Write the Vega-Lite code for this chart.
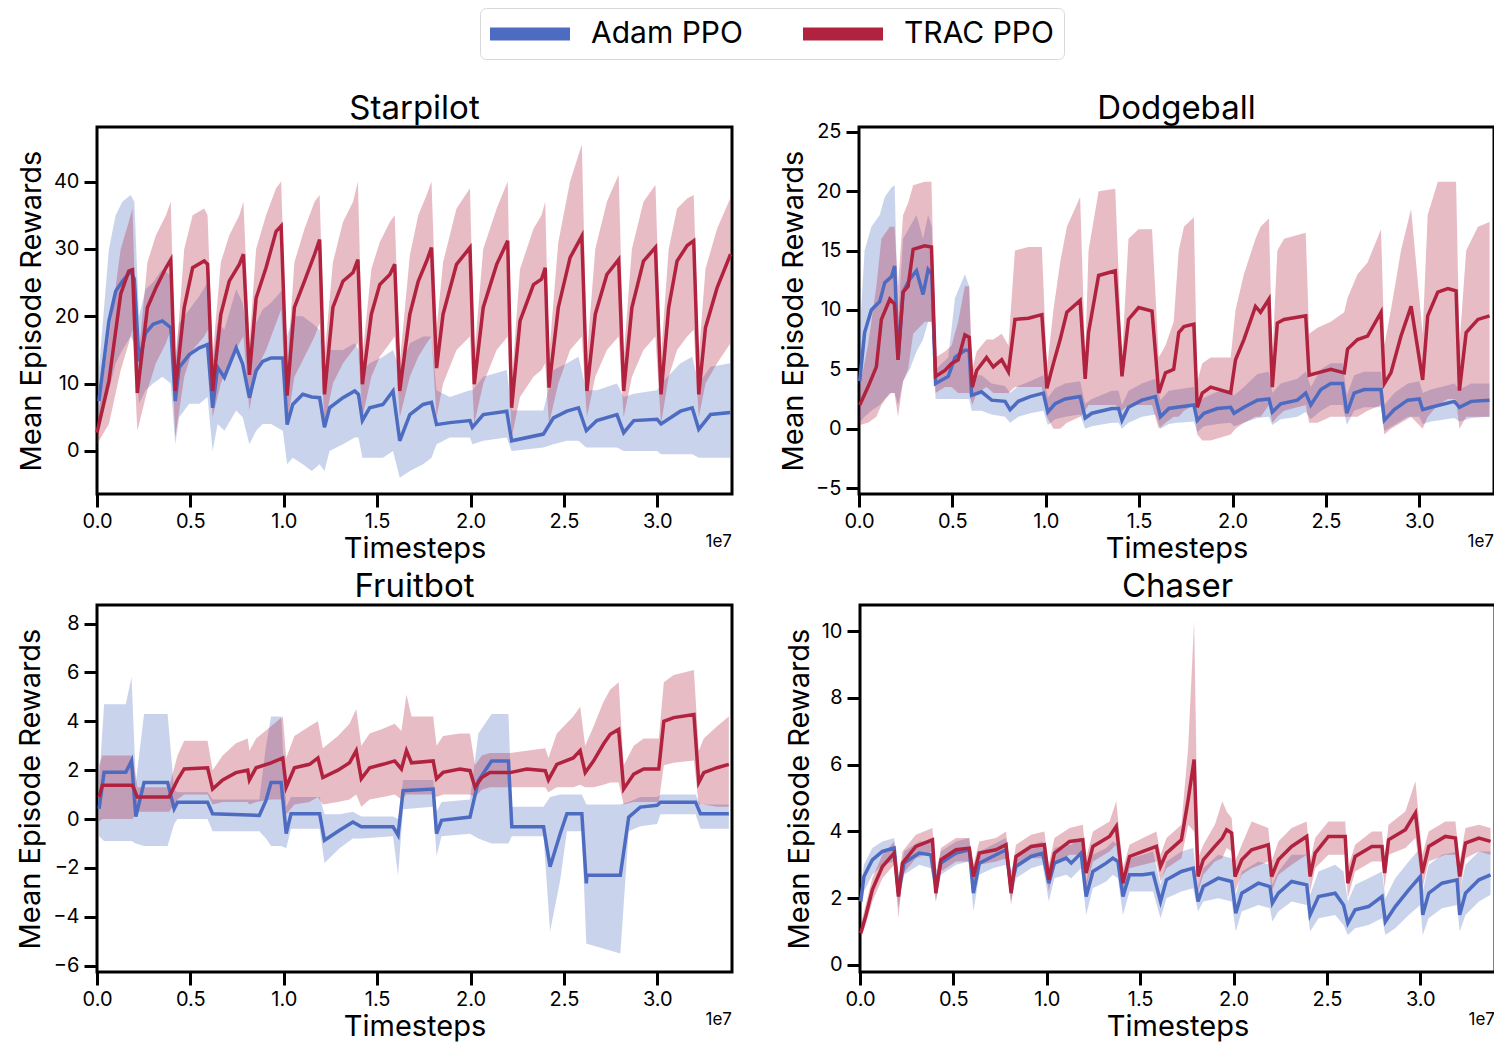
{
"$schema": "https://vega.github.io/schema/vega-lite/v6.json",
"padding": {"left": 15, "top": 7, "right": 0, "bottom": 0},
"config": {
 "font": "Inter",
 "view": {"stroke": "black", "strokeWidth": 3},
 "axis": {"grid": false, "domain": false, "tickColor": "black", "tickWidth": 3, "tickSize": 13, "labelFontSize": 20, "labelColor": "black", "titleFontSize": 29, "titleFontWeight": "normal", "titleColor": "black"},
 "axisX": {"titlePadding": 3, "labelPadding": 4},
 "axisY": {"titlePadding": 7, "labelPadding": 5},
 "title": {"fontSize": 33, "fontWeight": "normal", "color": "black", "offset": 1, "baseline": "alphabetic", "frame": "group"}
},
"datasets": {
"sp": [
{"s":"A","x":0.01,"y":7.4,"lo":3,"hi":12},{"s":"A","x":0.064,"y":19.3,"lo":9,"hi":30},{"s":"A","x":0.1,"y":23.7,"lo":13,"hi":35},{"s":"A","x":0.136,"y":25.2,"lo":15,"hi":37},{"s":"A","x":0.18,"y":26.7,"lo":17,"hi":38},{"s":"A","x":0.2,"y":25.5,"lo":16,"hi":37},{"s":"A","x":0.225,"y":13.3,"lo":7,"hi":20},{"s":"A","x":0.26,"y":17.5,"lo":9,"hi":24},{"s":"A","x":0.3,"y":18.8,"lo":10,"hi":25},{"s":"A","x":0.35,"y":19.3,"lo":11,"hi":27},{"s":"A","x":0.395,"y":18.3,"lo":10,"hi":26},{"s":"A","x":0.419,"y":7.4,"lo":1,"hi":14},{"s":"A","x":0.44,"y":12.4,"lo":5,"hi":19},{"s":"A","x":0.494,"y":14.3,"lo":7,"hi":21},{"s":"A","x":0.548,"y":15.3,"lo":7,"hi":23},{"s":"A","x":0.592,"y":15.8,"lo":8,"hi":25},{"s":"A","x":0.619,"y":6.4,"lo":0,"hi":13},{"s":"A","x":0.646,"y":12.4,"lo":4,"hi":19},{"s":"A","x":0.682,"y":10.9,"lo":3,"hi":18},{"s":"A","x":0.745,"y":15.3,"lo":6,"hi":24},{"s":"A","x":0.78,"y":12.9,"lo":5,"hi":22},{"s":"A","x":0.816,"y":7.9,"lo":1,"hi":15},{"s":"A","x":0.852,"y":11.9,"lo":3,"hi":19},{"s":"A","x":0.887,"y":13.3,"lo":4,"hi":21},{"s":"A","x":0.932,"y":13.8,"lo":4,"hi":22},{"s":"A","x":0.995,"y":13.8,"lo":3,"hi":24},{"s":"A","x":1.018,"y":3.9,"lo":-2,"hi":17},{"s":"A","x":1.048,"y":6.9,"lo":-1,"hi":20},{"s":"A","x":1.102,"y":8.4,"lo":-2,"hi":20},{"s":"A","x":1.15,"y":8.0,"lo":-3,"hi":19},{"s":"A","x":1.192,"y":7.9,"lo":-2,"hi":18},{"s":"A","x":1.218,"y":3.5,"lo":-3,"hi":12},{"s":"A","x":1.245,"y":6.4,"lo":0,"hi":15},{"s":"A","x":1.317,"y":7.9,"lo":1,"hi":15},{"s":"A","x":1.38,"y":8.9,"lo":2,"hi":16},{"s":"A","x":1.4,"y":8.4,"lo":2,"hi":15},{"s":"A","x":1.421,"y":4.5,"lo":-1,"hi":12},{"s":"A","x":1.46,"y":6.4,"lo":-1,"hi":13},{"s":"A","x":1.531,"y":6.9,"lo":-1,"hi":14},{"s":"A","x":1.585,"y":8.9,"lo":0,"hi":15},{"s":"A","x":1.621,"y":1.5,"lo":-4,"hi":12},{"s":"A","x":1.675,"y":5.4,"lo":-3,"hi":16},{"s":"A","x":1.746,"y":6.9,"lo":-2,"hi":17},{"s":"A","x":1.791,"y":7.2,"lo":-1,"hi":17},{"s":"A","x":1.818,"y":3.9,"lo":1,"hi":9},{"s":"A","x":1.889,"y":4.2,"lo":2,"hi":8},{"s":"A","x":1.997,"y":4.5,"lo":2,"hi":9},{"s":"A","x":2.01,"y":3.5,"lo":1,"hi":9},{"s":"A","x":2.068,"y":5.4,"lo":1.5,"hi":11},{"s":"A","x":2.194,"y":5.9,"lo":2,"hi":12},{"s":"A","x":2.22,"y":1.5,"lo":0,"hi":6},{"s":"A","x":2.39,"y":2.5,"lo":0.5,"hi":6},{"s":"A","x":2.444,"y":4.9,"lo":1,"hi":12},{"s":"A","x":2.516,"y":5.9,"lo":1.5,"hi":13},{"s":"A","x":2.578,"y":6.4,"lo":1.5,"hi":14},{"s":"A","x":2.62,"y":3.0,"lo":0.5,"hi":9},{"s":"A","x":2.676,"y":4.5,"lo":0.5,"hi":9},{"s":"A","x":2.784,"y":5.4,"lo":0.5,"hi":10},{"s":"A","x":2.82,"y":2.7,"lo":0,"hi":8},{"s":"A","x":2.874,"y":4.5,"lo":0,"hi":8.5},{"s":"A","x":2.999,"y":4.7,"lo":0,"hi":9},{"s":"A","x":3.02,"y":4.0,"lo":-0.5,"hi":10},{"s":"A","x":3.124,"y":5.9,"lo":-0.5,"hi":13},{"s":"A","x":3.187,"y":6.4,"lo":-0.5,"hi":14},{"s":"A","x":3.222,"y":3.2,"lo":-1,"hi":10},{"s":"A","x":3.285,"y":5.4,"lo":-1,"hi":12.5},{"s":"A","x":3.392,"y":5.7,"lo":-1,"hi":13},
{"s":"T","x":0.0,"y":2.7,"lo":1,"hi":4},{"s":"T","x":0.064,"y":10.4,"lo":4,"hi":17},{"s":"T","x":0.127,"y":23.3,"lo":12,"hi":30},{"s":"T","x":0.17,"y":26.7,"lo":16,"hi":34},{"s":"T","x":0.19,"y":26.9,"lo":18,"hi":36},{"s":"T","x":0.216,"y":8.6,"lo":3,"hi":12},{"s":"T","x":0.27,"y":21.3,"lo":9,"hi":28},{"s":"T","x":0.315,"y":24.2,"lo":13,"hi":32},{"s":"T","x":0.369,"y":27.2,"lo":16,"hi":35},{"s":"T","x":0.395,"y":28.4,"lo":18,"hi":37},{"s":"T","x":0.419,"y":8.9,"lo":2,"hi":12},{"s":"T","x":0.467,"y":21.3,"lo":11,"hi":30},{"s":"T","x":0.512,"y":27.2,"lo":15,"hi":35},{"s":"T","x":0.574,"y":28.2,"lo":17,"hi":36},{"s":"T","x":0.592,"y":27.7,"lo":18,"hi":35},{"s":"T","x":0.619,"y":8.9,"lo":5,"hi":14},{"s":"T","x":0.663,"y":20.3,"lo":10,"hi":28},{"s":"T","x":0.708,"y":25.2,"lo":13,"hi":32},{"s":"T","x":0.762,"y":27.7,"lo":16,"hi":35},{"s":"T","x":0.784,"y":29.2,"lo":17,"hi":37},{"s":"T","x":0.816,"y":11.3,"lo":6,"hi":16},{"s":"T","x":0.852,"y":22.7,"lo":12,"hi":30},{"s":"T","x":0.905,"y":27.2,"lo":15,"hi":35},{"s":"T","x":0.959,"y":32.6,"lo":19,"hi":39},{"s":"T","x":0.986,"y":33.4,"lo":21,"hi":40},{"s":"T","x":1.018,"y":8.2,"lo":4,"hi":12},{"s":"T","x":1.057,"y":21.3,"lo":11,"hi":28},{"s":"T","x":1.111,"y":25.2,"lo":14,"hi":33},{"s":"T","x":1.165,"y":29.2,"lo":17,"hi":37},{"s":"T","x":1.192,"y":31.4,"lo":19,"hi":38},{"s":"T","x":1.218,"y":8.4,"lo":4,"hi":14},{"s":"T","x":1.263,"y":21.3,"lo":10,"hi":28},{"s":"T","x":1.317,"y":25.2,"lo":13,"hi":34},{"s":"T","x":1.371,"y":26.5,"lo":15,"hi":37},{"s":"T","x":1.397,"y":28.4,"lo":16,"hi":40},{"s":"T","x":1.421,"y":9.9,"lo":5,"hi":14},{"s":"T","x":1.469,"y":20.3,"lo":11,"hi":27},{"s":"T","x":1.514,"y":24.7,"lo":14,"hi":31},{"s":"T","x":1.568,"y":26.2,"lo":16,"hi":34},{"s":"T","x":1.594,"y":27.7,"lo":17,"hi":35},{"s":"T","x":1.621,"y":8.9,"lo":5,"hi":13},{"s":"T","x":1.675,"y":20.3,"lo":11,"hi":29},{"s":"T","x":1.72,"y":25.2,"lo":14,"hi":35},{"s":"T","x":1.765,"y":28.2,"lo":16,"hi":38},{"s":"T","x":1.791,"y":30.2,"lo":17,"hi":40},{"s":"T","x":1.818,"y":12.3,"lo":5,"hi":18},{"s":"T","x":1.853,"y":20.3,"lo":10,"hi":28},{"s":"T","x":1.925,"y":27.7,"lo":15,"hi":36},{"s":"T","x":1.997,"y":30.2,"lo":17,"hi":39},{"s":"T","x":2.02,"y":9.9,"lo":4,"hi":14},{"s":"T","x":2.068,"y":21.3,"lo":10,"hi":30},{"s":"T","x":2.14,"y":27.7,"lo":15,"hi":36},{"s":"T","x":2.199,"y":31.2,"lo":17,"hi":40},{"s":"T","x":2.22,"y":6.4,"lo":2,"hi":10},{"s":"T","x":2.265,"y":19.3,"lo":8,"hi":27},{"s":"T","x":2.337,"y":24.7,"lo":11,"hi":33},{"s":"T","x":2.38,"y":25.5,"lo":12,"hi":35},{"s":"T","x":2.4,"y":27.2,"lo":13,"hi":37},{"s":"T","x":2.42,"y":9.4,"lo":4,"hi":14},{"s":"T","x":2.47,"y":21.3,"lo":10,"hi":31},{"s":"T","x":2.533,"y":28.7,"lo":15,"hi":40},{"s":"T","x":2.596,"y":31.9,"lo":17,"hi":45.5},{"s":"T","x":2.623,"y":8.9,"lo":5,"hi":14},{"s":"T","x":2.668,"y":20.3,"lo":11,"hi":30},{"s":"T","x":2.73,"y":26.2,"lo":15,"hi":37},{"s":"T","x":2.793,"y":28.4,"lo":17,"hi":41},{"s":"T","x":2.82,"y":8.9,"lo":5,"hi":14},{"s":"T","x":2.864,"y":21.3,"lo":11,"hi":30},{"s":"T","x":2.926,"y":28.2,"lo":15,"hi":37},{"s":"T","x":2.99,"y":30.2,"lo":17,"hi":39.5},{"s":"T","x":3.02,"y":8.4,"lo":4,"hi":14},{"s":"T","x":3.061,"y":21.3,"lo":11,"hi":30},{"s":"T","x":3.106,"y":28.2,"lo":15,"hi":36},{"s":"T","x":3.16,"y":30.5,"lo":17,"hi":37.5},{"s":"T","x":3.195,"y":31.2,"lo":18,"hi":38},{"s":"T","x":3.222,"y":8.4,"lo":5,"hi":14},{"s":"T","x":3.258,"y":18.3,"lo":10,"hi":27},{"s":"T","x":3.32,"y":24.2,"lo":13,"hi":33},{"s":"T","x":3.392,"y":29.2,"lo":16,"hi":37.6}
],
"db": [
{"s":"A","x":0.004,"y":4.0,"lo":0.5,"hi":8},{"s":"A","x":0.03,"y":8.1,"lo":1,"hi":15},{"s":"A","x":0.066,"y":10.0,"lo":1.5,"hi":17},{"s":"A","x":0.111,"y":10.7,"lo":2,"hi":18},{"s":"A","x":0.138,"y":12.3,"lo":2.5,"hi":19.5},{"s":"A","x":0.174,"y":12.8,"lo":3,"hi":20.3},{"s":"A","x":0.191,"y":13.7,"lo":3,"hi":20.5},{"s":"A","x":0.209,"y":5.8,"lo":2,"hi":9},{"s":"A","x":0.236,"y":11.5,"lo":4,"hi":16},{"s":"A","x":0.272,"y":12.6,"lo":5,"hi":17},{"s":"A","x":0.308,"y":13.3,"lo":6.5,"hi":18},{"s":"A","x":0.343,"y":11.3,"lo":7.5,"hi":16},{"s":"A","x":0.37,"y":13.4,"lo":9,"hi":18},{"s":"A","x":0.39,"y":13.0,"lo":9,"hi":17},{"s":"A","x":0.41,"y":3.8,"lo":2.5,"hi":5},{"s":"A","x":0.478,"y":4.4,"lo":2.5,"hi":6},{"s":"A","x":0.514,"y":6.0,"lo":2.5,"hi":11},{"s":"A","x":0.567,"y":6.6,"lo":2.5,"hi":13},{"s":"A","x":0.59,"y":6.6,"lo":2.5,"hi":12},{"s":"A","x":0.603,"y":2.8,"lo":1.5,"hi":4.5},{"s":"A","x":0.656,"y":3.1,"lo":1.5,"hi":4.5},{"s":"A","x":0.71,"y":2.4,"lo":1.2,"hi":3.8},{"s":"A","x":0.782,"y":2.3,"lo":1.0,"hi":3.6},{"s":"A","x":0.809,"y":1.6,"lo":0.5,"hi":3},{"s":"A","x":0.853,"y":2.3,"lo":1,"hi":3.6},{"s":"A","x":0.916,"y":2.7,"lo":1.3,"hi":4},{"s":"A","x":0.987,"y":3.0,"lo":1.5,"hi":4.5},{"s":"A","x":1.011,"y":1.4,"lo":0.3,"hi":2.6},{"s":"A","x":1.05,"y":2.1,"lo":0.8,"hi":3.4},{"s":"A","x":1.104,"y":2.5,"lo":1,"hi":3.8},{"s":"A","x":1.184,"y":2.7,"lo":1.2,"hi":4},{"s":"A","x":1.211,"y":0.9,"lo":0,"hi":2.1},{"s":"A","x":1.247,"y":1.3,"lo":0.2,"hi":2.5},{"s":"A","x":1.354,"y":1.7,"lo":0.5,"hi":3.2},{"s":"A","x":1.39,"y":1.7,"lo":0.5,"hi":3.2},{"s":"A","x":1.408,"y":0.7,"lo":0,"hi":2},{"s":"A","x":1.443,"y":1.8,"lo":0.5,"hi":3.2},{"s":"A","x":1.515,"y":2.4,"lo":1,"hi":3.8},{"s":"A","x":1.587,"y":2.7,"lo":1.2,"hi":4.2},{"s":"A","x":1.614,"y":1.0,"lo":0,"hi":2.4},{"s":"A","x":1.659,"y":1.7,"lo":0.4,"hi":3.2},{"s":"A","x":1.703,"y":1.8,"lo":0.5,"hi":3.3},{"s":"A","x":1.793,"y":2.0,"lo":0.6,"hi":3.5},{"s":"A","x":1.811,"y":0.7,"lo":-0.3,"hi":2},{"s":"A","x":1.847,"y":1.3,"lo":0.2,"hi":2.6},{"s":"A","x":1.918,"y":1.7,"lo":0.4,"hi":3.1},{"s":"A","x":1.99,"y":1.8,"lo":0.5,"hi":3.2},{"s":"A","x":2.008,"y":1.3,"lo":0.2,"hi":2.8},{"s":"A","x":2.061,"y":1.8,"lo":0.5,"hi":3.5},{"s":"A","x":2.133,"y":2.4,"lo":0.9,"hi":4.6},{"s":"A","x":2.195,"y":2.5,"lo":1,"hi":4.8},{"s":"A","x":2.213,"y":1.4,"lo":0.3,"hi":3},{"s":"A","x":2.258,"y":2.1,"lo":0.8,"hi":3.8},{"s":"A","x":2.347,"y":2.4,"lo":1,"hi":4.2},{"s":"A","x":2.392,"y":3.0,"lo":1.4,"hi":4.8},{"s":"A","x":2.419,"y":2.0,"lo":0.8,"hi":3.5},{"s":"A","x":2.473,"y":3.3,"lo":1.5,"hi":5},{"s":"A","x":2.526,"y":3.8,"lo":2,"hi":5.5},{"s":"A","x":2.589,"y":3.8,"lo":2,"hi":5.5},{"s":"A","x":2.612,"y":1.3,"lo":0.3,"hi":2.8},{"s":"A","x":2.651,"y":3.0,"lo":1.5,"hi":4.5},{"s":"A","x":2.705,"y":3.3,"lo":1.8,"hi":4.8},{"s":"A","x":2.795,"y":3.3,"lo":1.8,"hi":4.8},{"s":"A","x":2.813,"y":0.7,"lo":-0.2,"hi":2},{"s":"A","x":2.866,"y":1.6,"lo":0.3,"hi":3},{"s":"A","x":2.938,"y":2.4,"lo":1,"hi":3.8},{"s":"A","x":3.0,"y":2.5,"lo":1,"hi":4},{"s":"A","x":3.018,"y":1.6,"lo":0.4,"hi":3},{"s":"A","x":3.063,"y":1.8,"lo":0.6,"hi":3.3},{"s":"A","x":3.188,"y":2.3,"lo":0.9,"hi":3.8},{"s":"A","x":3.215,"y":1.8,"lo":0.6,"hi":3.3},{"s":"A","x":3.278,"y":2.3,"lo":0.9,"hi":3.8},{"s":"A","x":3.376,"y":2.4,"lo":1,"hi":3.8},
{"s":"T","x":0.004,"y":2.0,"lo":0.3,"hi":3.5},{"s":"T","x":0.048,"y":3.5,"lo":0.5,"hi":7},{"s":"T","x":0.093,"y":5.2,"lo":1,"hi":12},{"s":"T","x":0.12,"y":9.2,"lo":2,"hi":16},{"s":"T","x":0.165,"y":10.9,"lo":3,"hi":17},{"s":"T","x":0.19,"y":10.5,"lo":3,"hi":17},{"s":"T","x":0.209,"y":5.8,"lo":1,"hi":12},{"s":"T","x":0.236,"y":11.5,"lo":4,"hi":18},{"s":"T","x":0.263,"y":12.0,"lo":5,"hi":19},{"s":"T","x":0.29,"y":15.1,"lo":8,"hi":20.5},{"s":"T","x":0.352,"y":15.4,"lo":9,"hi":20.8},{"s":"T","x":0.388,"y":15.3,"lo":9,"hi":20.8},{"s":"T","x":0.41,"y":4.4,"lo":3,"hi":6},{"s":"T","x":0.46,"y":4.9,"lo":3.5,"hi":6.5},{"s":"T","x":0.496,"y":5.5,"lo":3.5,"hi":7},{"s":"T","x":0.531,"y":5.8,"lo":3,"hi":9},{"s":"T","x":0.567,"y":7.9,"lo":3,"hi":12},{"s":"T","x":0.59,"y":7.7,"lo":3,"hi":12},{"s":"T","x":0.607,"y":3.5,"lo":2,"hi":5},{"s":"T","x":0.63,"y":4.9,"lo":3,"hi":6.5},{"s":"T","x":0.683,"y":6.0,"lo":3.5,"hi":7.5},{"s":"T","x":0.719,"y":5.2,"lo":3,"hi":7.5},{"s":"T","x":0.764,"y":5.8,"lo":3,"hi":8},{"s":"T","x":0.8,"y":4.8,"lo":3,"hi":7},{"s":"T","x":0.835,"y":9.2,"lo":3.5,"hi":15},{"s":"T","x":0.907,"y":9.3,"lo":3.5,"hi":15.3},{"s":"T","x":0.979,"y":9.6,"lo":3.5,"hi":15.3},{"s":"T","x":1.006,"y":3.4,"lo":1,"hi":5},{"s":"T","x":1.041,"y":5.5,"lo":0,"hi":10},{"s":"T","x":1.077,"y":7.5,"lo":0,"hi":14},{"s":"T","x":1.113,"y":9.8,"lo":0.5,"hi":17},{"s":"T","x":1.184,"y":10.8,"lo":1,"hi":19.5},{"s":"T","x":1.211,"y":4.2,"lo":1.5,"hi":6},{"s":"T","x":1.229,"y":8.1,"lo":2,"hi":15},{"s":"T","x":1.283,"y":12.9,"lo":2,"hi":20},{"s":"T","x":1.372,"y":13.3,"lo":2,"hi":20.2},{"s":"T","x":1.408,"y":4.4,"lo":1.5,"hi":6},{"s":"T","x":1.443,"y":9.2,"lo":2,"hi":16},{"s":"T","x":1.497,"y":10.2,"lo":2,"hi":16.8},{"s":"T","x":1.569,"y":9.9,"lo":2,"hi":16.8},{"s":"T","x":1.605,"y":3.0,"lo":0,"hi":6},{"s":"T","x":1.641,"y":4.7,"lo":0.5,"hi":7},{"s":"T","x":1.685,"y":5.0,"lo":1,"hi":9},{"s":"T","x":1.712,"y":8.1,"lo":1,"hi":15},{"s":"T","x":1.74,"y":8.6,"lo":1.5,"hi":17},{"s":"T","x":1.793,"y":8.8,"lo":2,"hi":17.8},{"s":"T","x":1.811,"y":1.8,"lo":-0.5,"hi":4},{"s":"T","x":1.838,"y":3.0,"lo":-1,"hi":5.5},{"s":"T","x":1.883,"y":3.5,"lo":-1,"hi":6},{"s":"T","x":1.99,"y":3.0,"lo":-0.5,"hi":6},{"s":"T","x":2.016,"y":5.8,"lo":0,"hi":10},{"s":"T","x":2.061,"y":7.5,"lo":0.5,"hi":13},{"s":"T","x":2.123,"y":10.3,"lo":1,"hi":16},{"s":"T","x":2.15,"y":9.8,"lo":1,"hi":17},{"s":"T","x":2.195,"y":10.9,"lo":2,"hi":17.7},{"s":"T","x":2.213,"y":3.5,"lo":0.5,"hi":6},{"s":"T","x":2.24,"y":8.9,"lo":1,"hi":15},{"s":"T","x":2.276,"y":9.2,"lo":1.5,"hi":16},{"s":"T","x":2.392,"y":9.5,"lo":2,"hi":16.5},{"s":"T","x":2.41,"y":4.5,"lo":0.5,"hi":8},{"s":"T","x":2.455,"y":4.7,"lo":0.5,"hi":8.5},{"s":"T","x":2.526,"y":5.0,"lo":1,"hi":9},{"s":"T","x":2.598,"y":4.7,"lo":1,"hi":9.8},{"s":"T","x":2.616,"y":6.7,"lo":1,"hi":11},{"s":"T","x":2.669,"y":7.5,"lo":1,"hi":13},{"s":"T","x":2.723,"y":7.8,"lo":1.5,"hi":14},{"s":"T","x":2.795,"y":9.8,"lo":2,"hi":16.8},{"s":"T","x":2.813,"y":3.8,"lo":-0.5,"hi":7},{"s":"T","x":2.848,"y":4.7,"lo":0,"hi":10},{"s":"T","x":2.902,"y":7.8,"lo":0.5,"hi":15},{"s":"T","x":2.956,"y":10.3,"lo":1,"hi":18.5},{"s":"T","x":3.018,"y":4.1,"lo":0,"hi":8},{"s":"T","x":3.045,"y":9.5,"lo":1,"hi":18},{"s":"T","x":3.099,"y":11.5,"lo":2,"hi":20.8},{"s":"T","x":3.153,"y":11.8,"lo":2.5,"hi":20.8},{"s":"T","x":3.197,"y":11.6,"lo":2.5,"hi":20.8},{"s":"T","x":3.215,"y":3.2,"lo":0,"hi":7},{"s":"T","x":3.251,"y":8.1,"lo":1,"hi":15},{"s":"T","x":3.314,"y":9.2,"lo":1,"hi":17},{"s":"T","x":3.376,"y":9.5,"lo":1,"hi":17.4}
],
"fb": [
{"s":"A","x":0.011,"y":0.42,"lo":-0.7,"hi":1.5},{"s":"A","x":0.038,"y":1.91,"lo":-0.9,"hi":4.7},{"s":"A","x":0.154,"y":1.91,"lo":-0.9,"hi":4.7},{"s":"A","x":0.185,"y":2.38,"lo":-0.9,"hi":5.8},{"s":"A","x":0.208,"y":0.1,"lo":-1.0,"hi":1.5},{"s":"A","x":0.252,"y":1.5,"lo":-1.1,"hi":4.3},{"s":"A","x":0.378,"y":1.5,"lo":-1.1,"hi":4.3},{"s":"A","x":0.413,"y":0.42,"lo":-0.2,"hi":1.2},{"s":"A","x":0.431,"y":0.69,"lo":0.0,"hi":1.1},{"s":"A","x":0.592,"y":0.69,"lo":0.0,"hi":1.1},{"s":"A","x":0.619,"y":0.22,"lo":-0.5,"hi":0.8},{"s":"A","x":0.869,"y":0.15,"lo":-0.5,"hi":0.8},{"s":"A","x":0.905,"y":0.76,"lo":-0.8,"hi":3.0},{"s":"A","x":0.932,"y":1.5,"lo":-1.1,"hi":4.2},{"s":"A","x":0.986,"y":1.5,"lo":-1.1,"hi":4.2},{"s":"A","x":1.013,"y":-0.6,"lo":-1.2,"hi":0.5},{"s":"A","x":1.039,"y":0.22,"lo":-0.4,"hi":0.9},{"s":"A","x":1.192,"y":0.22,"lo":-0.4,"hi":0.9},{"s":"A","x":1.218,"y":-0.87,"lo":-1.8,"hi":0.2},{"s":"A","x":1.299,"y":-0.46,"lo":-1.2,"hi":0.2},{"s":"A","x":1.37,"y":-0.12,"lo":-0.8,"hi":0.3},{"s":"A","x":1.415,"y":-0.32,"lo":-0.8,"hi":0.1},{"s":"A","x":1.585,"y":-0.32,"lo":-0.7,"hi":0.1},{"s":"A","x":1.612,"y":-0.66,"lo":-2.3,"hi":0.0},{"s":"A","x":1.639,"y":1.16,"lo":0.4,"hi":1.6},{"s":"A","x":1.8,"y":1.23,"lo":0.5,"hi":1.6},{"s":"A","x":1.818,"y":-0.6,"lo":-1.5,"hi":0.3},{"s":"A","x":1.845,"y":-0.05,"lo":-0.7,"hi":0.7},{"s":"A","x":1.997,"y":0.08,"lo":-0.6,"hi":0.8},{"s":"A","x":2.042,"y":1.57,"lo":-0.8,"hi":3.5},{"s":"A","x":2.113,"y":2.38,"lo":-1.0,"hi":4.3},{"s":"A","x":2.203,"y":2.38,"lo":-1.0,"hi":4.3},{"s":"A","x":2.221,"y":-0.32,"lo":-0.7,"hi":0.5},{"s":"A","x":2.391,"y":-0.32,"lo":-0.7,"hi":0.5},{"s":"A","x":2.426,"y":-1.95,"lo":-4.6,"hi":0.9},{"s":"A","x":2.48,"y":-0.6,"lo":-2.5,"hi":1.0},{"s":"A","x":2.516,"y":0.22,"lo":-0.5,"hi":1.0},{"s":"A","x":2.596,"y":0.22,"lo":-0.5,"hi":1.0},{"s":"A","x":2.62,"y":-2.63,"lo":-5.1,"hi":0.6},{"s":"A","x":2.623,"y":-2.3,"lo":-5.1,"hi":0.6},{"s":"A","x":2.802,"y":-2.3,"lo":-5.5,"hi":0.6},{"s":"A","x":2.847,"y":0.08,"lo":-0.5,"hi":0.7},{"s":"A","x":2.909,"y":0.49,"lo":-0.3,"hi":0.9},{"s":"A","x":2.999,"y":0.56,"lo":-0.2,"hi":0.9},{"s":"A","x":3.017,"y":0.69,"lo":0.2,"hi":1.0},{"s":"A","x":3.205,"y":0.69,"lo":0.2,"hi":1.0},{"s":"A","x":3.231,"y":0.22,"lo":-0.4,"hi":0.6},{"s":"A","x":3.383,"y":0.22,"lo":-0.4,"hi":0.6},
{"s":"T","x":0.011,"y":0.9,"lo":-0.1,"hi":2.2},{"s":"T","x":0.029,"y":1.38,"lo":0.0,"hi":2.6},{"s":"T","x":0.19,"y":1.38,"lo":0.0,"hi":2.6},{"s":"T","x":0.216,"y":0.9,"lo":0.3,"hi":1.3},{"s":"T","x":0.386,"y":0.9,"lo":0.3,"hi":1.3},{"s":"T","x":0.431,"y":1.6,"lo":0.8,"hi":2.6},{"s":"T","x":0.467,"y":2.05,"lo":1.0,"hi":3.2},{"s":"T","x":0.592,"y":2.1,"lo":1.0,"hi":3.2},{"s":"T","x":0.619,"y":1.23,"lo":0.6,"hi":2.0},{"s":"T","x":0.673,"y":1.6,"lo":0.7,"hi":2.6},{"s":"T","x":0.744,"y":1.9,"lo":0.7,"hi":3.1},{"s":"T","x":0.807,"y":2.0,"lo":0.7,"hi":3.3},{"s":"T","x":0.816,"y":1.6,"lo":0.6,"hi":2.8},{"s":"T","x":0.852,"y":2.1,"lo":0.7,"hi":3.3},{"s":"T","x":0.932,"y":2.3,"lo":0.8,"hi":3.8},{"s":"T","x":0.995,"y":2.5,"lo":0.8,"hi":4.2},{"s":"T","x":1.013,"y":1.3,"lo":0.2,"hi":2.5},{"s":"T","x":1.057,"y":2.1,"lo":0.6,"hi":3.4},{"s":"T","x":1.138,"y":2.24,"lo":0.7,"hi":3.8},{"s":"T","x":1.183,"y":2.5,"lo":0.9,"hi":4.0},{"s":"T","x":1.209,"y":1.7,"lo":0.6,"hi":2.9},{"s":"T","x":1.29,"y":2.0,"lo":0.7,"hi":3.4},{"s":"T","x":1.352,"y":2.3,"lo":0.8,"hi":3.9},{"s":"T","x":1.388,"y":2.8,"lo":1.0,"hi":4.5},{"s":"T","x":1.415,"y":1.65,"lo":0.5,"hi":3.0},{"s":"T","x":1.46,"y":2.1,"lo":0.8,"hi":3.5},{"s":"T","x":1.531,"y":2.24,"lo":0.9,"hi":3.7},{"s":"T","x":1.594,"y":2.38,"lo":1.0,"hi":3.9},{"s":"T","x":1.63,"y":2.05,"lo":0.8,"hi":3.6},{"s":"T","x":1.657,"y":2.8,"lo":1.0,"hi":5.1},{"s":"T","x":1.684,"y":2.3,"lo":1.0,"hi":4.2},{"s":"T","x":1.8,"y":2.38,"lo":1.0,"hi":4.2},{"s":"T","x":1.818,"y":1.65,"lo":0.9,"hi":3.0},{"s":"T","x":1.853,"y":1.91,"lo":1.0,"hi":3.4},{"s":"T","x":1.943,"y":2.05,"lo":1.0,"hi":3.5},{"s":"T","x":1.997,"y":1.98,"lo":1.0,"hi":3.5},{"s":"T","x":2.024,"y":1.3,"lo":0.9,"hi":2.2},{"s":"T","x":2.06,"y":1.7,"lo":1.2,"hi":2.6},{"s":"T","x":2.104,"y":1.9,"lo":1.3,"hi":2.7},{"s":"T","x":2.212,"y":1.9,"lo":1.3,"hi":2.7},{"s":"T","x":2.301,"y":2.05,"lo":1.3,"hi":2.8},{"s":"T","x":2.4,"y":1.98,"lo":1.3,"hi":2.9},{"s":"T","x":2.417,"y":1.6,"lo":1.1,"hi":2.5},{"s":"T","x":2.462,"y":2.24,"lo":1.3,"hi":3.5},{"s":"T","x":2.55,"y":2.5,"lo":1.3,"hi":4.2},{"s":"T","x":2.587,"y":2.8,"lo":1.4,"hi":4.6},{"s":"T","x":2.614,"y":1.9,"lo":1.3,"hi":3.0},{"s":"T","x":2.659,"y":2.38,"lo":1.3,"hi":3.8},{"s":"T","x":2.712,"y":3.07,"lo":1.4,"hi":4.8},{"s":"T","x":2.748,"y":3.47,"lo":1.5,"hi":5.3},{"s":"T","x":2.793,"y":3.67,"lo":1.5,"hi":5.6},{"s":"T","x":2.82,"y":1.23,"lo":0.6,"hi":2.2},{"s":"T","x":2.874,"y":1.84,"lo":0.7,"hi":3.0},{"s":"T","x":2.927,"y":2.05,"lo":0.7,"hi":3.3},{"s":"T","x":3.008,"y":2.05,"lo":0.7,"hi":3.3},{"s":"T","x":3.035,"y":4.0,"lo":2.2,"hi":5.6},{"s":"T","x":3.088,"y":4.15,"lo":2.3,"hi":5.9},{"s":"T","x":3.196,"y":4.28,"lo":2.4,"hi":6.1},{"s":"T","x":3.222,"y":1.5,"lo":0.6,"hi":2.8},{"s":"T","x":3.249,"y":1.9,"lo":0.6,"hi":3.3},{"s":"T","x":3.32,"y":2.1,"lo":0.5,"hi":3.8},{"s":"T","x":3.383,"y":2.24,"lo":0.5,"hi":4.2}
],
"ch": [
{"s":"A","x":0.004,"y":1.9,"lo":1.6,"hi":2.3},{"s":"A","x":0.021,"y":2.65,"lo":2.2,"hi":3.0},{"s":"A","x":0.066,"y":3.15,"lo":2.7,"hi":3.5},{"s":"A","x":0.12,"y":3.4,"lo":3.0,"hi":3.7},{"s":"A","x":0.183,"y":3.5,"lo":3.1,"hi":3.8},{"s":"A","x":0.206,"y":2.15,"lo":1.7,"hi":2.6},{"s":"A","x":0.236,"y":3.05,"lo":2.7,"hi":3.4},{"s":"A","x":0.317,"y":3.35,"lo":3.0,"hi":3.7},{"s":"A","x":0.379,"y":3.3,"lo":2.9,"hi":3.7},{"s":"A","x":0.406,"y":2.35,"lo":1.9,"hi":2.8},{"s":"A","x":0.433,"y":3.05,"lo":2.7,"hi":3.4},{"s":"A","x":0.514,"y":3.35,"lo":3.0,"hi":3.7},{"s":"A","x":0.585,"y":3.45,"lo":3.1,"hi":3.8},{"s":"A","x":0.607,"y":2.15,"lo":1.6,"hi":2.6},{"s":"A","x":0.639,"y":3.05,"lo":2.7,"hi":3.4},{"s":"A","x":0.71,"y":3.25,"lo":2.9,"hi":3.6},{"s":"A","x":0.782,"y":3.45,"lo":3.0,"hi":3.8},{"s":"A","x":0.809,"y":2.35,"lo":1.9,"hi":2.8},{"s":"A","x":0.835,"y":2.95,"lo":2.6,"hi":3.3},{"s":"A","x":0.916,"y":3.25,"lo":2.9,"hi":3.6},{"s":"A","x":0.978,"y":3.35,"lo":3.0,"hi":3.7},{"s":"A","x":1.011,"y":2.45,"lo":1.9,"hi":2.9},{"s":"A","x":1.041,"y":3.05,"lo":2.6,"hi":3.5},{"s":"A","x":1.104,"y":3.2,"lo":2.7,"hi":3.6},{"s":"A","x":1.131,"y":3.05,"lo":2.6,"hi":3.6},{"s":"A","x":1.184,"y":3.35,"lo":2.9,"hi":3.8},{"s":"A","x":1.211,"y":2.05,"lo":1.5,"hi":2.5},{"s":"A","x":1.247,"y":2.8,"lo":2.3,"hi":3.3},{"s":"A","x":1.318,"y":3.05,"lo":2.5,"hi":3.5},{"s":"A","x":1.354,"y":3.2,"lo":2.7,"hi":3.7},{"s":"A","x":1.381,"y":3.1,"lo":2.6,"hi":3.6},{"s":"A","x":1.408,"y":2.05,"lo":1.5,"hi":2.5},{"s":"A","x":1.443,"y":2.7,"lo":2.2,"hi":3.2},{"s":"A","x":1.515,"y":2.7,"lo":2.2,"hi":3.3},{"s":"A","x":1.569,"y":2.75,"lo":2.2,"hi":3.4},{"s":"A","x":1.609,"y":1.9,"lo":1.4,"hi":2.4},{"s":"A","x":1.641,"y":2.55,"lo":2.0,"hi":3.1},{"s":"A","x":1.721,"y":2.8,"lo":2.2,"hi":3.4},{"s":"A","x":1.784,"y":2.9,"lo":2.3,"hi":3.5},{"s":"A","x":1.81,"y":1.9,"lo":1.6,"hi":2.3},{"s":"A","x":1.838,"y":2.35,"lo":1.9,"hi":2.9},{"s":"A","x":1.918,"y":2.6,"lo":2.0,"hi":3.3},{"s":"A","x":1.99,"y":2.5,"lo":1.9,"hi":3.2},{"s":"A","x":2.012,"y":1.55,"lo":1.0,"hi":2.1},{"s":"A","x":2.044,"y":2.15,"lo":1.6,"hi":2.8},{"s":"A","x":2.133,"y":2.45,"lo":1.8,"hi":3.1},{"s":"A","x":2.195,"y":2.35,"lo":1.7,"hi":3.0},{"s":"A","x":2.208,"y":1.85,"lo":1.3,"hi":2.4},{"s":"A","x":2.24,"y":2.15,"lo":1.6,"hi":2.8},{"s":"A","x":2.311,"y":2.5,"lo":1.9,"hi":3.3},{"s":"A","x":2.392,"y":2.4,"lo":1.8,"hi":3.3},{"s":"A","x":2.41,"y":1.5,"lo":1.0,"hi":2.1},{"s":"A","x":2.455,"y":2.05,"lo":1.4,"hi":2.8},{"s":"A","x":2.544,"y":2.15,"lo":1.5,"hi":3.0},{"s":"A","x":2.589,"y":1.8,"lo":1.2,"hi":2.8},{"s":"A","x":2.612,"y":1.25,"lo":0.9,"hi":1.9},{"s":"A","x":2.651,"y":1.65,"lo":1.1,"hi":2.4},{"s":"A","x":2.723,"y":1.75,"lo":1.2,"hi":2.6},{"s":"A","x":2.795,"y":2.05,"lo":1.4,"hi":2.8},{"s":"A","x":2.813,"y":1.3,"lo":0.9,"hi":2.0},{"s":"A","x":2.866,"y":1.75,"lo":1.1,"hi":2.6},{"s":"A","x":2.938,"y":2.25,"lo":1.5,"hi":3.1},{"s":"A","x":3.0,"y":2.65,"lo":1.8,"hi":3.5},{"s":"A","x":3.013,"y":1.5,"lo":0.9,"hi":2.2},{"s":"A","x":3.045,"y":2.15,"lo":1.4,"hi":3.0},{"s":"A","x":3.116,"y":2.45,"lo":1.7,"hi":3.3},{"s":"A","x":3.197,"y":2.55,"lo":1.8,"hi":3.4},{"s":"A","x":3.211,"y":1.5,"lo":1.0,"hi":2.2},{"s":"A","x":3.242,"y":2.15,"lo":1.5,"hi":3.0},{"s":"A","x":3.314,"y":2.55,"lo":1.9,"hi":3.4},{"s":"A","x":3.376,"y":2.7,"lo":2.1,"hi":3.4},
{"s":"T","x":0.004,"y":0.95,"lo":0.8,"hi":1.2},{"s":"T","x":0.03,"y":1.45,"lo":1.2,"hi":1.8},{"s":"T","x":0.066,"y":2.25,"lo":1.9,"hi":2.6},{"s":"T","x":0.12,"y":2.95,"lo":2.6,"hi":3.3},{"s":"T","x":0.183,"y":3.35,"lo":3.0,"hi":3.7},{"s":"T","x":0.206,"y":2.05,"lo":1.4,"hi":2.5},{"s":"T","x":0.227,"y":3.05,"lo":2.7,"hi":3.4},{"s":"T","x":0.299,"y":3.55,"lo":3.2,"hi":3.9},{"s":"T","x":0.388,"y":3.75,"lo":3.4,"hi":4.1},{"s":"T","x":0.406,"y":2.15,"lo":1.9,"hi":2.5},{"s":"T","x":0.433,"y":3.15,"lo":2.8,"hi":3.5},{"s":"T","x":0.514,"y":3.45,"lo":3.1,"hi":3.8},{"s":"T","x":0.585,"y":3.5,"lo":3.1,"hi":3.8},{"s":"T","x":0.607,"y":2.65,"lo":2.3,"hi":3.0},{"s":"T","x":0.639,"y":3.35,"lo":3.0,"hi":3.7},{"s":"T","x":0.728,"y":3.45,"lo":3.1,"hi":3.8},{"s":"T","x":0.782,"y":3.6,"lo":3.2,"hi":4.0},{"s":"T","x":0.809,"y":2.15,"lo":1.8,"hi":2.6},{"s":"T","x":0.835,"y":3.25,"lo":2.9,"hi":3.6},{"s":"T","x":0.916,"y":3.55,"lo":3.2,"hi":3.9},{"s":"T","x":0.987,"y":3.6,"lo":3.2,"hi":4.0},{"s":"T","x":1.011,"y":2.55,"lo":2.2,"hi":3.0},{"s":"T","x":1.041,"y":3.35,"lo":3.0,"hi":3.8},{"s":"T","x":1.122,"y":3.7,"lo":3.3,"hi":4.1},{"s":"T","x":1.193,"y":3.75,"lo":3.3,"hi":4.2},{"s":"T","x":1.211,"y":2.75,"lo":2.3,"hi":3.2},{"s":"T","x":1.247,"y":3.55,"lo":3.1,"hi":4.0},{"s":"T","x":1.336,"y":3.85,"lo":3.4,"hi":4.3},{"s":"T","x":1.372,"y":4.15,"lo":3.6,"hi":4.9},{"s":"T","x":1.408,"y":2.45,"lo":2.0,"hi":2.9},{"s":"T","x":1.443,"y":3.25,"lo":2.9,"hi":3.6},{"s":"T","x":1.515,"y":3.4,"lo":3.0,"hi":3.8},{"s":"T","x":1.587,"y":3.55,"lo":3.1,"hi":4.0},{"s":"T","x":1.609,"y":2.95,"lo":2.5,"hi":3.3},{"s":"T","x":1.641,"y":3.35,"lo":2.9,"hi":3.8},{"s":"T","x":1.721,"y":3.75,"lo":3.2,"hi":4.2},{"s":"T","x":1.757,"y":4.95,"lo":4.2,"hi":6.5},{"s":"T","x":1.789,"y":6.15,"lo":4.0,"hi":10.3},{"s":"T","x":1.81,"y":2.65,"lo":2.2,"hi":3.2},{"s":"T","x":1.838,"y":3.15,"lo":2.7,"hi":3.6},{"s":"T","x":1.9,"y":3.55,"lo":3.1,"hi":4.2},{"s":"T","x":1.94,"y":3.8,"lo":3.2,"hi":4.9},{"s":"T","x":1.963,"y":4.05,"lo":3.5,"hi":4.6},{"s":"T","x":1.99,"y":3.95,"lo":3.4,"hi":4.4},{"s":"T","x":2.008,"y":2.65,"lo":2.2,"hi":3.1},{"s":"T","x":2.044,"y":3.15,"lo":2.7,"hi":3.6},{"s":"T","x":2.097,"y":3.45,"lo":2.9,"hi":4.3},{"s":"T","x":2.186,"y":3.6,"lo":3.1,"hi":4.1},{"s":"T","x":2.204,"y":2.65,"lo":2.2,"hi":3.1},{"s":"T","x":2.24,"y":3.15,"lo":2.7,"hi":3.7},{"s":"T","x":2.311,"y":3.55,"lo":3.0,"hi":4.1},{"s":"T","x":2.392,"y":3.85,"lo":3.3,"hi":4.3},{"s":"T","x":2.41,"y":2.65,"lo":2.2,"hi":3.1},{"s":"T","x":2.437,"y":3.35,"lo":2.9,"hi":3.8},{"s":"T","x":2.508,"y":3.85,"lo":3.3,"hi":4.3},{"s":"T","x":2.598,"y":3.85,"lo":3.3,"hi":4.3},{"s":"T","x":2.612,"y":2.45,"lo":2.0,"hi":2.9},{"s":"T","x":2.651,"y":3.25,"lo":2.8,"hi":3.6},{"s":"T","x":2.741,"y":3.55,"lo":3.1,"hi":4.0},{"s":"T","x":2.795,"y":3.55,"lo":3.1,"hi":4.0},{"s":"T","x":2.809,"y":2.75,"lo":2.3,"hi":3.2},{"s":"T","x":2.83,"y":3.75,"lo":3.3,"hi":4.2},{"s":"T","x":2.92,"y":4.05,"lo":3.5,"hi":4.6},{"s":"T","x":2.974,"y":4.55,"lo":3.8,"hi":5.5},{"s":"T","x":3.011,"y":2.75,"lo":2.3,"hi":3.3},{"s":"T","x":3.045,"y":3.55,"lo":3.1,"hi":4.0},{"s":"T","x":3.134,"y":3.85,"lo":3.3,"hi":4.3},{"s":"T","x":3.188,"y":3.8,"lo":3.3,"hi":4.3},{"s":"T","x":3.211,"y":2.65,"lo":2.2,"hi":3.1},{"s":"T","x":3.242,"y":3.65,"lo":3.2,"hi":4.1},{"s":"T","x":3.314,"y":3.8,"lo":3.4,"hi":4.2},{"s":"T","x":3.376,"y":3.7,"lo":3.3,"hi":4.1}
]
},
"vconcat": [
 {"hconcat": [
  {"title": "Starpilot", "width": 635, "height": 367,
   "layer": [
    {"data": {"name": "sp"}, "mark": {"type": "area", "opacity": 0.3},
     "encoding": {
      "x": {"field": "x", "type": "quantitative", "title": "Timesteps", "scale": {"domain": [0, 3.4], "nice": false, "zero": false}, "axis": {"values": [0, 0.5, 1, 1.5, 2, 2.5, 3], "format": ".1f", "labelFlush": false}},
      "y": {"field": "lo", "type": "quantitative", "title": "Mean Episode Rewards", "scale": {"domain": [-6.4, 48.1], "nice": false, "zero": false}, "axis": {"values": [0, 10, 20, 30, 40]}},
      "y2": {"field": "hi"},
      "color": {"field": "s", "type": "nominal", "scale": {"domain": ["A", "T"], "range": ["#4d6cc1", "#b1223f"]},
       "legend": {"orient": "none", "legendX": 383, "legendY": -119, "direction": "horizontal", "title": null, "symbolType": "M-1,-0.4H4V0.4H-1Z", "symbolSize": 1024, "symbolStrokeWidth": 0, "symbolOpacity": 1, "labelFontSize": 30, "labelExpr": "datum.label == 'A' ? 'Adam PPO' : 'TRAC PPO'", "labelLimit": 400, "labelOffset": 69, "columnPadding": 60, "strokeColor": "#d8d8d8", "padding": 10, "cornerRadius": 6,
        "encoding": {"symbols": {"opacity": {"value": 1}}}}}}},
    {"data": {"name": "sp"}, "mark": {"type": "line", "strokeWidth": 3.5},
     "encoding": {
      "x": {"field": "x", "type": "quantitative", "title": "Timesteps", "scale": {"domain": [0, 3.4], "nice": false, "zero": false}},
      "y": {"field": "y", "type": "quantitative", "title": "Mean Episode Rewards", "scale": {"domain": [-6.4, 48.1], "nice": false, "zero": false}},
      "color": {"field": "s", "type": "nominal", "scale": {"domain": ["A", "T"], "range": ["#4d6cc1", "#b1223f"]}}}},
    {"data": {"values": [{"t": "1e7"}]}, "mark": {"type": "text", "align": "right", "baseline": "middle", "dy": 48, "fontSize": 17},
     "encoding": {"x": {"datum": 3.4, "type": "quantitative"}, "y": {"datum": -6.4, "type": "quantitative"}, "text": {"field": "t"}}}
   ]},
  {"title": {"text": "Dodgeball", "offset": -4}, "width": 635, "height": 367,
   "layer": [
    {"data": {"name": "db"}, "mark": {"type": "area", "opacity": 0.3},
     "encoding": {
      "x": {"field": "x", "type": "quantitative", "title": "Timesteps", "scale": {"domain": [0, 3.4], "nice": false, "zero": false}, "axis": {"values": [0, 0.5, 1, 1.5, 2, 2.5, 3], "format": ".1f", "labelFlush": false}},
      "y": {"field": "lo", "type": "quantitative", "title": "Mean Episode Rewards", "scale": {"domain": [-5.5, 25.4], "nice": false, "zero": false}, "axis": {"values": [-5, 0, 5, 10, 15, 20, 25]}},
      "y2": {"field": "hi"},
      "color": {"field": "s", "type": "nominal", "scale": {"domain": ["A", "T"], "range": ["#4d6cc1", "#b1223f"]}}}},
    {"data": {"name": "db"}, "mark": {"type": "line", "strokeWidth": 3.5},
     "encoding": {
      "x": {"field": "x", "type": "quantitative", "title": "Timesteps", "scale": {"domain": [0, 3.4], "nice": false, "zero": false}},
      "y": {"field": "y", "type": "quantitative", "title": "Mean Episode Rewards", "scale": {"domain": [-5.5, 25.4], "nice": false, "zero": false}},
      "color": {"field": "s", "type": "nominal", "scale": {"domain": ["A", "T"], "range": ["#4d6cc1", "#b1223f"]}}}},
    {"data": {"values": [{"t": "1e7"}]}, "mark": {"type": "text", "align": "right", "baseline": "middle", "dy": 48, "fontSize": 17},
     "encoding": {"x": {"datum": 3.4, "type": "quantitative"}, "y": {"datum": -5.5, "type": "quantitative"}, "text": {"field": "t"}}}
   ]}
 ], "spacing": 38},
 {"hconcat": [
  {"title": "Fruitbot", "width": 635, "height": 367,
   "layer": [
    {"data": {"name": "fb"}, "mark": {"type": "area", "opacity": 0.3},
     "encoding": {
      "x": {"field": "x", "type": "quantitative", "title": "Timesteps", "scale": {"domain": [0, 3.4], "nice": false, "zero": false}, "axis": {"values": [0, 0.5, 1, 1.5, 2, 2.5, 3], "format": ".1f", "labelFlush": false}},
      "y": {"field": "lo", "type": "quantitative", "title": "Mean Episode Rewards", "scale": {"domain": [-6.26, 8.76], "nice": false, "zero": false}, "axis": {"values": [-6, -4, -2, 0, 2, 4, 6, 8]}},
      "y2": {"field": "hi"},
      "color": {"field": "s", "type": "nominal", "scale": {"domain": ["A", "T"], "range": ["#4d6cc1", "#b1223f"]}}}},
    {"data": {"name": "fb"}, "mark": {"type": "line", "strokeWidth": 3.5},
     "encoding": {
      "x": {"field": "x", "type": "quantitative", "title": "Timesteps", "scale": {"domain": [0, 3.4], "nice": false, "zero": false}},
      "y": {"field": "y", "type": "quantitative", "title": "Mean Episode Rewards", "scale": {"domain": [-6.26, 8.76], "nice": false, "zero": false}},
      "color": {"field": "s", "type": "nominal", "scale": {"domain": ["A", "T"], "range": ["#4d6cc1", "#b1223f"]}}}},
    {"data": {"values": [{"t": "1e7"}]}, "mark": {"type": "text", "align": "right", "baseline": "middle", "dy": 48, "fontSize": 17},
     "encoding": {"x": {"datum": 3.4, "type": "quantitative"}, "y": {"datum": -6.26, "type": "quantitative"}, "text": {"field": "t"}}}
   ]},
  {"title": "Chaser", "width": 635, "height": 367,
   "layer": [
    {"data": {"name": "ch"}, "mark": {"type": "area", "opacity": 0.3},
     "encoding": {
      "x": {"field": "x", "type": "quantitative", "title": "Timesteps", "scale": {"domain": [0, 3.4], "nice": false, "zero": false}, "axis": {"values": [0, 0.5, 1, 1.5, 2, 2.5, 3], "format": ".1f", "labelFlush": false}},
      "y": {"field": "lo", "type": "quantitative", "title": "Mean Episode Rewards", "scale": {"domain": [-0.21, 10.78], "nice": false, "zero": false}, "axis": {"values": [0, 2, 4, 6, 8, 10]}},
      "y2": {"field": "hi"},
      "color": {"field": "s", "type": "nominal", "scale": {"domain": ["A", "T"], "range": ["#4d6cc1", "#b1223f"]}}}},
    {"data": {"name": "ch"}, "mark": {"type": "line", "strokeWidth": 3.5},
     "encoding": {
      "x": {"field": "x", "type": "quantitative", "title": "Timesteps", "scale": {"domain": [0, 3.4], "nice": false, "zero": false}},
      "y": {"field": "y", "type": "quantitative", "title": "Mean Episode Rewards", "scale": {"domain": [-0.21, 10.78], "nice": false, "zero": false}},
      "color": {"field": "s", "type": "nominal", "scale": {"domain": ["A", "T"], "range": ["#4d6cc1", "#b1223f"]}}}},
    {"data": {"values": [{"t": "1e7"}]}, "mark": {"type": "text", "align": "right", "baseline": "middle", "dy": 48, "fontSize": 17},
     "encoding": {"x": {"datum": 3.4, "type": "quantitative"}, "y": {"datum": -0.21, "type": "quantitative"}, "text": {"field": "t"}}}
   ]}
 ], "spacing": 45}
],
"spacing": 4,
"resolve": {"scale": {"x": "independent", "y": "independent"}}
}
